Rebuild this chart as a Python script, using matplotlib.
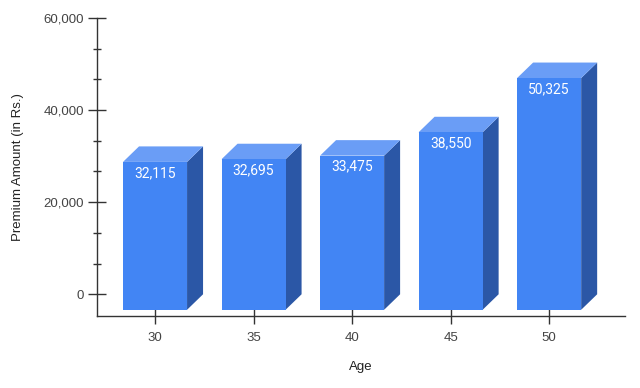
import matplotlib
matplotlib.use("Agg")
import matplotlib.pyplot as plt
from matplotlib.patches import Polygon
from matplotlib.ticker import MultipleLocator, FuncFormatter

ages = ["30", "35", "40", "45", "50"]
premiums = [32115, 32695, 33475, 38550, 50325]

plt.rcParams['font.family'] = ['Liberation Sans', 'DejaVu Sans']

fig = plt.figure(figsize=(6.4, 3.88), dpi=100)
W, H = 640, 388
left, right, top, bottom = 97, 625, 18, 316
ax = fig.add_axes([left / W, (H - bottom) / H, (right - left) / W, (bottom - top) / H])
ax.set_xlim(-0.589, 4.77)
ax.set_ylim(-4717, 60000)

# pixel -> data conversion
px_x = (right - left) / (4.77 + 0.589)
px_y = (bottom - top) / (60000 + 4717)
dx = 16 / px_x
dy = 15.5 / px_y

front_c = "#4285F4"
top_c = "#6A9DF6"
side_c = "#2B57A6"
w = 0.65
for i, v in enumerate(premiums):
    x0, x1 = i - w / 2, i + w / 2
    fb, ft = -dy, v - dy
    ax.add_patch(Polygon([(x1, fb), (x1 + dx, 0), (x1 + dx, v), (x1, ft)],
                         closed=True, facecolor=side_c, edgecolor="none", zorder=2))
    ax.add_patch(Polygon([(x0, ft), (x1, ft), (x1 + dx, v), (x0 + dx, v)],
                         closed=True, facecolor=top_c, edgecolor="none", zorder=2))
    ax.add_patch(Polygon([(x0, fb), (x1, fb), (x1, ft), (x0, ft)],
                         closed=True, facecolor=front_c, edgecolor="none", zorder=3))
    ax.annotate(f"{v:,}", xy=(i, ft), xytext=(0, -11), textcoords="offset pixels",
                ha="center", va="center", color="white", fontsize=10,
                family=['Roboto', 'DejaVu Sans'], zorder=4)

for s in ["top", "right"]:
    ax.spines[s].set_visible(False)
for s in ["left", "bottom"]:
    ax.spines[s].set_color("#333333")
    ax.spines[s].set_linewidth(1.0)

ax.set_xticks(range(len(ages)))
ax.set_xticklabels(ages)
ax.yaxis.set_major_locator(MultipleLocator(20000))
ax.yaxis.set_minor_locator(MultipleLocator(20000 / 3))
ax.yaxis.set_major_formatter(FuncFormatter(lambda v, p: f"{int(v):,}"))
ax.tick_params(axis="y", which="major", direction="inout", length=13, width=1,
               color="#333333", labelsize=9.5, labelcolor="#444444", pad=3)
ax.tick_params(axis="y", which="minor", direction="inout", length=6, width=1,
               color="#333333")
ax.tick_params(axis="x", which="major", direction="inout", length=11, width=1,
               color="#333333", labelsize=9.5, labelcolor="#444444", pad=6)

ax.set_xlabel("Age", fontsize=9.5, color="#222222", va="center")
ax.set_ylabel("Premium Amount (in Rs.)", fontsize=9.5, color="#222222", va="center")
ax.xaxis.set_label_coords(0.5, (bottom - 367) / (bottom - top))
ax.yaxis.set_label_coords((18 - left) / (right - left), 0.5)

fig.savefig("out.png", dpi=100)
